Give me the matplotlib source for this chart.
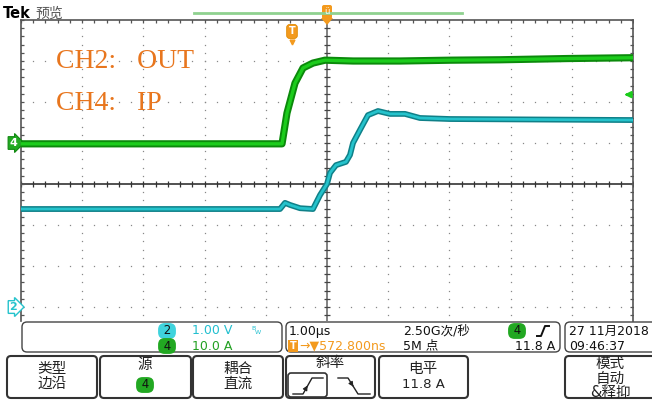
import matplotlib
matplotlib.use("Agg")
import matplotlib.pyplot as plt
import matplotlib.transforms as mtransforms
import matplotlib.patheffects as pe
from matplotlib.patches import FancyBboxPatch, Polygon
import numpy as np

plt.rcParams['font.family'] = ['DejaVu Sans', 'Noto Sans CJK SC']

# scope settings
ch2_scale, ch2_pos = 1.0, -3.0     # V/div, ground marker (div)
ch4_scale, ch4_pos = 10.0, 1.0     # A/div
trig_level = 11.8                  # A
t_left, t_right = -4.428, 5.572    # us, trigger at t=0

# CH4 (IP), green trace: time (us), current (A)
ch4_t = [-4.428, -0.163, -0.082, 0.049, 0.18, 0.343, 0.539, 1.0, 1.765, 2.6, 3.4, 4.5, 5.572]
ch4_a = [-0.2, -0.2, 7.3, 14.6, 18.3, 19.5, 20.2, 20.0, 20.0, 20.2, 20.3, 20.6, 20.8]

# CH2 (OUT), cyan trace: time (us), voltage (V)
ch2_t = [-4.428, -0.196, -0.114, -0.033, 0.131, 0.343, 0.458, 0.572, 0.621, 0.719,
         0.882, 0.948, 0.997, 1.111, 1.242, 1.405, 1.601, 1.846, 2.09, 2.58, 5.572]
ch2_v = [2.39, 2.39, 2.54, 2.49, 2.41, 2.39, 2.73, 3.0, 3.27, 3.46,
         3.54, 3.71, 4.0, 4.32, 4.68, 4.78, 4.71, 4.71, 4.61, 4.585, 4.56]

green = '#1ccc1c'
green_dk = '#0b8a0b'
cyan = '#25c3cc'
cyan_dk = '#0f8088'
orange = '#f39a1e'
txt_orange = '#e8761e'

fig = plt.figure(figsize=(6.52, 4.01), dpi=100)
ax = fig.add_axes([21 / 652, 80 / 401, 612 / 652, 301 / 401])
ax.set_xlim(t_left, t_right)
ax.set_ylim(-3.341, 4)
ax.set_xticks([])
ax.set_yticks([])
for s in ['top', 'left', 'right']:
    ax.spines[s].set_color('#555')
    ax.spines[s].set_linewidth(1.2)
ax.spines['bottom'].set_visible(False)

# dotted grid
for k in range(1, 10):
    if k == 5:
        continue
    ys = np.arange(-3.4, 4.01, 0.2)
    ax.plot(np.full_like(ys, t_left + k), ys, ls='none', marker='s', ms=0.9, color='#888', mew=0)
for j in [-3, -2, -1, 1, 2, 3]:
    xs = np.arange(t_left, t_right + 0.01, 0.2)
    ax.plot(xs, np.full_like(xs, j), ls='none', marker='s', ms=0.9, color='#888', mew=0)

# center lines with ticks
ax.axhline(0, color='#333', lw=1.2)
ax.axvline(t_left + 5, color='#777', lw=1.3)
xs = np.arange(t_left, t_right + 0.01, 0.2)
ys = np.arange(-3.4, 4.01, 0.2)
ax.plot(xs, np.zeros_like(xs), ls='none', marker='|', ms=4.5, color='#333', mew=0.9)
ax.plot(np.full_like(ys, t_left + 5), ys, ls='none', marker='_', ms=4.5, color='#444', mew=0.9)
# border ticks
ax.plot(xs, np.full_like(xs, 4), ls='none', marker='|', ms=5, color='#555', mew=0.9)
ax.plot(np.full_like(ys, t_left), ys, ls='none', marker='_', ms=5, color='#555', mew=0.9)
ax.plot(np.full_like(ys, t_right), ys, ls='none', marker='_', ms=5, color='#555', mew=0.9)

# traces
ch4_div = np.array(ch4_a) / ch4_scale + ch4_pos
ch2_div = np.array(ch2_v) / ch2_scale + ch2_pos
ax.plot(ch2_t, ch2_div, color=cyan, lw=2.0, solid_joinstyle='round',
        path_effects=[pe.Stroke(linewidth=4.2, foreground=cyan_dk), pe.Normal()], zorder=5)
ax.plot(ch4_t, ch4_div, color=green, lw=2.4, solid_joinstyle='round',
        path_effects=[pe.Stroke(linewidth=5.2, foreground=green_dk), pe.Normal()], zorder=6)

# ground markers
trans = mtransforms.blended_transform_factory(ax.transAxes, ax.transData)
ax.text(-0.006, ch4_pos, '4', transform=trans, ha='right', va='center', color='white',
        fontsize=8, fontweight='bold', clip_on=False,
        bbox=dict(boxstyle='rarrow,pad=0.12', fc='#22aa22', ec='#118811', lw=0.8))
ax.text(-0.006, ch2_pos, '2', transform=trans, ha='right', va='center', color=cyan,
        fontsize=8, fontweight='bold', clip_on=False,
        bbox=dict(boxstyle='rarrow,pad=0.12', fc='white', ec=cyan, lw=1.0))
# trigger level arrow
lvl = trig_level / ch4_scale + ch4_pos
ax.annotate('', xy=(0.981, lvl), xytext=(0.998, lvl), xycoords=trans, textcoords=trans,
            arrowprops=dict(arrowstyle='-|>', color=green, lw=1.6, mutation_scale=9))
# trigger position marker
ax.text(0, 3.72, 'T', ha='center', va='center', color='white', fontsize=7, fontweight='bold',
        bbox=dict(boxstyle='round,pad=0.2,rounding_size=0.3', fc=orange, ec='#e08a00', lw=0.6), zorder=8)
ax.plot([0], [3.47], marker='v', ms=3.5, color=orange, zorder=8)

# overlay in pixel coords
ov = fig.add_axes([0, 0, 1, 1], zorder=10)
ov.set_xlim(0, 652)
ov.set_ylim(401, 0)
ov.axis('off')
ov.patch.set_alpha(0)

ov.text(3, 14, 'Tek', fontsize=10.5, fontweight='bold', va='center', family='DejaVu Sans')
ov.text(35, 14, '预览', fontsize=10, va='center', color='#555', family='Noto Sans CJK SC')
ov.plot([194, 462], [13, 13], color='#8fd18f', lw=2)
ov.add_patch(FancyBboxPatch((322, 5), 10, 14, boxstyle='round,pad=0,rounding_size=2', fc=orange, ec='none'))
ov.add_patch(Polygon([[321, 18], [333, 18], [327, 25]], closed=True, fc=orange, ec='none'))
ov.text(327, 12, 'ü', fontsize=6, color='white', ha='center', va='center')

serif = 'Liberation Serif'
ov.text(56, 68, 'CH2:   OUT', fontsize=20, family=serif, color=txt_orange, va='baseline')
ov.text(56, 110, 'CH4:   IP', fontsize=20, family=serif, color=txt_orange, va='baseline')


def rbox(x0, y0, x1, y1, lw=1.0, r=5, ec='#444'):
    ov.add_patch(FancyBboxPatch((x0, y0), x1 - x0, y1 - y0,
                                boxstyle=f'round,pad=0,rounding_size={r}',
                                fc='white', ec=ec, lw=lw))


def pill(x, y, s, fc):
    ov.text(x, y, f' {s} ', ha='center', va='center', fontsize=8.5, color='#111',
            bbox=dict(boxstyle='round,pad=0.12,rounding_size=0.55', fc=fc, ec='none'))


r1, r2 = 331, 346
rbox(22, 322, 282, 352)
rbox(286, 322, 560, 352)
rbox(565, 322, 660, 352)
pill(167, r1, '2', '#3fd3dd')
ov.text(192, r1, '1.00 V', fontsize=9, color='#22bfcf', va='center')
ov.text(251, r1 - 2, 'B', fontsize=4.5, color='#22bfcf', va='center')
ov.text(255, r1 + 1, 'W', fontsize=4.5, color='#22bfcf', va='center')
pill(167, r2, '4', '#22a822')
ov.text(192, r2, '10.0 A', fontsize=9, color='#22a022', va='center')

ov.text(289, r1, '1.00µs', fontsize=9, color='#111', va='center')
ov.text(293, r2, 'T', fontsize=7, color='white', fontweight='bold', ha='center', va='center',
        bbox=dict(boxstyle='square,pad=0.12', fc=orange, ec='none'))
ov.text(299, r2, '→▼572.800ns', fontsize=9, color=orange, va='center')
ov.text(403, r1, '2.50G次/秒', fontsize=9, color='#111', va='center')
ov.text(403, r2, '5M 点', fontsize=9, color='#111', va='center')
pill(517, r1, '4', '#22a822')
ov.plot([537, 541, 545, 549], [336, 336, 326, 326], color='#111', lw=1.4)
ov.text(555, r2, '11.8 A', fontsize=9, color='#111', va='center', ha='right')
ov.text(569, r1, '27 11月2018', fontsize=9, color='#111', va='center')
ov.text(569, r2, '09:46:37', fontsize=9, color='#111', va='center')

# softkey buttons
buttons = [(7, 97), (100, 191), (193, 283), (286, 375), (379, 468), (565, 662)]
for x0, x1 in buttons:
    rbox(x0, 356, x1, 398, lw=1.5, r=4, ec='#333')
bf = 10.5
ov.text(52, 368, '类型', fontsize=bf, ha='center', va='center', color='#222')
ov.text(52, 383, '边沿', fontsize=bf, ha='center', va='center', color='#222')
ov.text(145, 364, '源', fontsize=bf, ha='center', va='center', color='#222')
pill(145, 385, '4', '#22a822')
ov.text(238, 368, '耦合', fontsize=bf, ha='center', va='center', color='#222')
ov.text(238, 383, '直流', fontsize=bf, ha='center', va='center', color='#222')
ov.text(330, 363, '斜率', fontsize=bf, ha='center', va='center', color='#222')
rbox(288, 373, 327, 397, lw=1.2, r=3, ec='#333')
ov.plot([293, 303, 312, 323], [394, 394, 378, 378], color='#222', lw=1)
ov.annotate('', xy=(309, 383), xytext=(305, 390),
            arrowprops=dict(arrowstyle='-|>', color='#222', lw=0.8, mutation_scale=7))
ov.plot([338, 348, 358, 370], [378, 378, 394, 394], color='#222', lw=1)
ov.annotate('', xy=(355, 389), xytext=(351, 383),
            arrowprops=dict(arrowstyle='-|>', color='#222', lw=0.8, mutation_scale=7))
ov.text(423, 368, '电平', fontsize=bf, ha='center', va='center', color='#222')
ov.text(423, 385, '11.8 A', fontsize=9.5, ha='center', va='center', color='#222')
ov.text(610, 363, '模式', fontsize=bf, ha='center', va='center', color='#222')
ov.text(610, 378, '自动', fontsize=bf, ha='center', va='center', color='#222')
ov.text(610, 393, '&释抑', fontsize=bf, ha='center', va='center', color='#222')

fig.savefig('out.png', dpi=100)
